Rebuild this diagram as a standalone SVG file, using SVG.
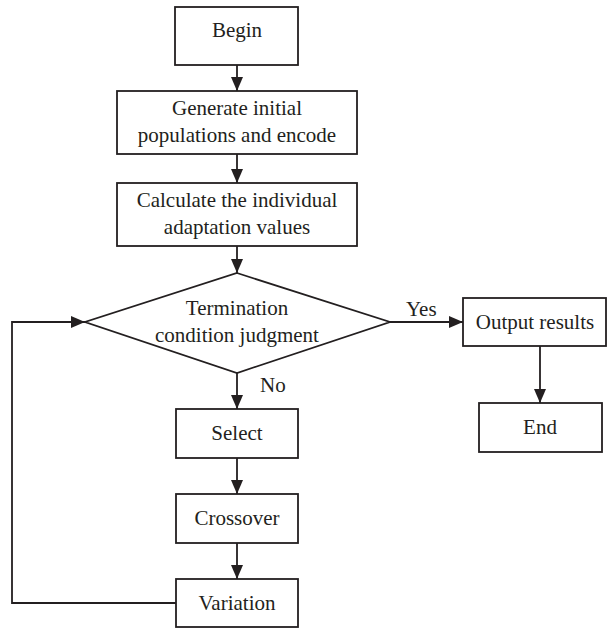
<svg xmlns="http://www.w3.org/2000/svg" width="608" height="629" viewBox="0 0 608 629">
<style>
.box{fill:#fff;stroke:#231f20;stroke-width:1.8}
.ln{fill:none;stroke:#231f20;stroke-width:1.8}
text{font-family:"Liberation Serif","Times New Roman",serif;font-size:21px;fill:#231f20;text-anchor:middle}
.lbl{text-anchor:start}
</style>
<defs>
<marker id="ah" markerUnits="userSpaceOnUse" markerWidth="14" markerHeight="12" refX="14" refY="6" orient="auto">
<path d="M0,0 L14,6 L0,12 Z" fill="#231f20"/>
</marker>
</defs>
<rect width="608" height="629" fill="#fff"/>
<g id="connectors">
<line class="ln" x1="237" y1="65" x2="237" y2="91" marker-end="url(#ah)"/>
<line class="ln" x1="237" y1="154" x2="237" y2="183" marker-end="url(#ah)"/>
<line class="ln" x1="237" y1="246" x2="237" y2="273" marker-end="url(#ah)"/>
<line class="ln" x1="237" y1="373" x2="237" y2="409" marker-end="url(#ah)"/>
<line class="ln" x1="237" y1="458" x2="237" y2="494" marker-end="url(#ah)"/>
<line class="ln" x1="237" y1="543" x2="237" y2="579" marker-end="url(#ah)"/>
<line class="ln" x1="390" y1="322" x2="463" y2="322" marker-end="url(#ah)"/>
<line class="ln" x1="540" y1="346" x2="540" y2="403" marker-end="url(#ah)"/>
<polyline class="ln" points="176,603 12,603 12,322 85,322" marker-end="url(#ah)"/>
<text class="lbl" x="406" y="316">Yes</text>
<text class="lbl" x="260" y="392">No</text>
</g>
<g id="begin">
<rect class="box" x="175" y="7" width="123" height="58"/>
<text x="237" y="37">Begin</text>
</g>
<g id="generate">
<rect class="box" x="117" y="91" width="240" height="63"/>
<text x="237" y="115">Generate initial</text>
<text x="237" y="142">populations and encode</text>
</g>
<g id="calculate">
<rect class="box" x="117" y="183" width="240" height="63"/>
<text x="237" y="207">Calculate the individual</text>
<text x="237" y="234">adaptation values</text>
</g>
<g id="termination">
<polygon class="box" points="237,273 390,322 237,373 85,322"/>
<text x="237" y="315">Termination</text>
<text x="237" y="342">condition judgment</text>
</g>
<g id="output">
<rect class="box" x="463" y="298" width="143" height="48"/>
<text x="535" y="329">Output results</text>
</g>
<g id="end">
<rect class="box" x="479" y="403" width="123" height="49"/>
<text x="540" y="434">End</text>
</g>
<g id="select">
<rect class="box" x="176" y="409" width="122" height="49"/>
<text x="237" y="440">Select</text>
</g>
<g id="crossover">
<rect class="box" x="176" y="494" width="122" height="49"/>
<text x="237" y="525">Crossover</text>
</g>
<g id="variation">
<rect class="box" x="176" y="579" width="122" height="48"/>
<text x="237" y="610">Variation</text>
</g>
</svg>
